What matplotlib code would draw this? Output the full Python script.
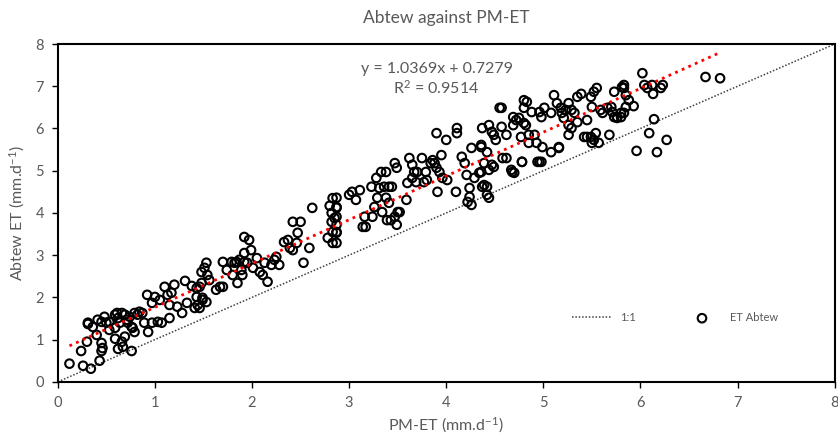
import matplotlib
matplotlib.use('Agg')
import matplotlib.pyplot as plt
import numpy as np

# PM-ET vs ET Abtew (mm/d)
pm_et = np.array([
    0.12, 0.26, 0.34, 0.43, 0.24, 0.30, 0.31, 0.40, 0.45, 0.46, 0.45, 0.62, 0.67, 0.76,
    0.59, 0.66, 0.69, 0.79, 0.77, 0.89, 0.93, 0.97, 1.03, 1.07, 1.15, 1.23, 1.28, 1.10,
    1.20, 1.31, 1.38, 1.43, 1.48, 0.92, 1.00, 0.97, 1.05, 1.13, 1.17, 1.15, 1.33, 1.41,
    1.46, 1.49, 0.31, 0.36, 0.41, 0.45, 0.48, 0.50, 0.53, 0.59, 0.61, 0.62, 0.66, 0.69,
    0.71, 0.74, 0.79, 0.82, 0.84, 0.87, 0.64, 0.72, 0.76, 0.53, 0.59,
    1.46, 1.43, 1.44, 1.49, 1.53, 1.48, 1.53, 1.51, 1.54, 1.56, 1.63, 1.67, 1.70, 1.70,
    1.74, 1.80, 1.84, 1.85, 1.87, 1.90, 1.92, 1.92, 1.97, 1.99, 1.95, 2.01, 2.05, 2.08,
    2.11, 2.13, 2.16, 2.20, 2.23, 2.25, 2.28, 2.33, 2.37, 2.39, 2.42, 2.42, 2.50, 2.47,
    2.46, 2.53, 2.59, 2.62, 2.80, 2.83, 2.87, 2.82, 2.85, 2.82, 2.87, 2.83, 2.87, 2.78,
    2.83, 1.79, 1.82, 1.92, 1.89,
    2.87, 2.87, 2.87, 2.87, 2.87, 3.00, 3.03, 3.11, 3.07, 3.14, 3.17, 3.16, 3.23, 3.24,
    3.26, 3.28, 3.29, 3.31, 3.33, 3.34, 3.36, 3.38, 3.38, 3.39, 3.41, 3.41, 3.44, 3.47,
    3.49, 3.43, 3.47, 3.49, 3.50, 3.52, 3.59, 3.60, 3.62, 3.65, 3.67, 3.70, 3.65, 3.69,
    3.75, 3.79, 3.77, 3.80, 3.84, 3.86, 3.88, 3.90, 3.91, 3.93, 3.95, 3.90, 4.00, 3.96,
    4.01, 4.11, 4.11, 4.10, 4.16, 4.19, 4.21, 4.24, 4.24, 4.22, 4.26, 4.26, 4.29, 4.36,
    4.36, 4.37, 4.37,
    4.44, 4.47, 4.49, 4.36, 4.34, 4.42, 4.39, 4.44, 4.51, 4.49, 4.55, 4.57, 4.57, 4.62,
    4.58, 4.62, 4.39, 4.42, 4.42, 4.44, 4.67, 4.70, 4.69, 4.69, 4.72, 4.75, 4.77, 4.78,
    4.80, 4.83, 4.80, 4.80, 4.82, 4.85, 4.88, 4.85, 4.91, 4.93, 4.94, 4.98, 4.96, 4.98,
    4.99, 5.01, 5.08, 5.08, 5.11, 5.14, 5.16, 5.18, 5.19, 5.21, 5.23, 5.26, 5.26, 5.29,
    5.26, 5.29, 5.32, 5.35, 5.39, 5.35, 5.42, 5.45, 5.45, 5.49, 5.50, 5.52, 5.55, 5.49,
    5.50, 5.52, 5.54, 5.57, 5.59, 5.61, 5.66, 5.68, 5.70, 5.71, 5.73, 5.73, 5.76, 5.80,
    5.81, 5.16, 4.96, 4.78, 4.68, 4.47,
    6.02, 5.83, 5.83, 5.85, 5.88, 5.85, 5.93, 5.80, 5.83, 5.76, 6.04, 6.07, 6.12, 6.13,
    6.21, 6.23, 6.67, 6.82, 6.14, 6.09, 6.27, 5.96, 6.17,
])
et_abtew = np.array([
    0.43, 0.38, 0.31, 0.50, 0.73, 0.95, 1.37, 1.11, 0.92, 0.80, 0.73, 0.78, 0.83, 0.73,
    1.02, 0.95, 1.07, 1.18, 1.28, 1.40, 1.18, 1.40, 1.42, 1.40, 1.51, 1.78, 1.63, 2.25,
    2.30, 2.39, 2.27, 2.22, 2.34, 2.06, 2.01, 1.87, 1.94, 2.06, 2.11, 1.82, 1.87, 1.75,
    1.75, 1.94, 1.40, 1.30, 1.47, 1.42, 1.54, 1.40, 1.42, 1.59, 1.63, 1.51, 1.63, 1.59,
    1.47, 1.54, 1.63, 1.59, 1.66, 1.63, 1.40, 1.40, 1.30, 1.23, 1.28,
    2.25, 2.01, 1.82, 1.99, 1.89, 2.60, 2.82, 2.70, 2.53, 2.41, 2.18, 2.25, 2.25, 2.84,
    2.65, 2.53, 2.84, 2.34, 2.89, 2.53, 3.05, 3.43, 3.36, 3.12, 2.82, 2.70, 2.93, 2.60,
    2.53, 2.82, 2.37, 2.77, 2.89, 2.96, 2.77, 3.31, 3.36, 3.17, 3.12, 3.79, 3.79, 3.53,
    3.29, 2.82, 3.17, 4.12, 4.17, 4.35, 4.14, 4.00, 3.88, 3.79, 3.72, 3.55, 3.55, 3.41,
    3.29, 2.84, 2.82, 2.84, 2.65,
    4.36, 4.12, 3.91, 3.53, 3.29, 4.43, 4.50, 4.54, 4.31, 3.67, 3.67, 3.91, 4.62, 3.91,
    4.14, 4.83, 4.36, 4.59, 4.97, 4.02, 4.62, 4.97, 4.36, 3.83, 4.24, 4.62, 4.62, 5.18,
    5.07, 3.83, 3.91, 3.72, 4.02, 4.02, 4.31, 4.71, 5.30, 5.14, 4.97, 4.97, 4.83, 4.73,
    5.30, 4.97, 4.73, 4.78, 5.18, 5.25, 5.18, 5.07, 4.50, 4.97, 5.37, 5.89, 5.73, 4.83,
    4.78, 6.01, 5.89, 4.50, 5.33, 5.18, 4.90, 4.59, 4.38, 4.26, 4.19, 5.54, 4.83, 5.56,
    4.97, 4.62, 6.01,
    6.08, 5.92, 5.85, 5.61, 4.95, 5.44, 5.18, 5.02, 5.73, 5.09, 6.49, 6.49, 6.04, 5.85,
    5.30, 5.30, 4.66, 4.62, 4.43, 4.36, 5.02, 4.95, 6.27, 6.08, 6.20, 6.25, 5.80, 5.21,
    6.67, 6.63, 6.49, 6.13, 6.08, 5.85, 6.39, 5.66, 5.85, 5.66, 5.21, 5.21, 6.39, 6.27,
    5.56, 6.49, 6.37, 5.44, 6.79, 6.60, 5.56, 6.49, 6.37, 6.25, 6.44, 6.60, 6.08, 6.01,
    5.85, 6.44, 6.37, 6.75, 6.82, 6.15, 5.80, 5.80, 6.20, 6.75, 6.51, 6.87, 6.96, 5.80,
    5.66, 5.73, 5.89, 5.66, 6.44, 6.37, 6.49, 5.85, 6.51, 6.39, 6.27, 6.87, 6.25, 6.27,
    6.98, 5.54, 5.21, 5.21, 4.97, 5.14,
    7.31, 7.03, 6.96, 6.79, 6.67, 6.51, 6.53, 6.37, 6.37, 6.27, 7.03, 6.96, 7.03, 6.82,
    6.96, 7.03, 7.22, 7.19, 6.22, 5.89, 5.73, 5.47, 5.44,
])

slope = 1.0369
intercept = 0.7279
r2 = 0.9514

gray = '#595959'
plt.rcParams['font.family'] = ['Lato', 'DejaVu Sans']
plt.rcParams['mathtext.default'] = 'regular'

fig = plt.figure(figsize=(8.38, 4.45), dpi=100)
ax = fig.add_axes([0.069, 0.142, 0.927, 0.759])

# 1:1 line
ax.plot([0, 8], [0, 8], color='#404040', linestyle=(0, (1, 1.2)), linewidth=1.1, label='1:1')

ax.scatter(pm_et, et_abtew, s=38, facecolors='none', edgecolors='black',
           linewidths=1.5, label='ET Abtew', zorder=3)

# linear trendline
xt = np.array([pm_et.min(), pm_et.max()])
ax.plot(xt, slope * xt + intercept, color='#ff0000', linestyle=(0, (1, 1.6)),
        linewidth=2.0, zorder=4)

ax.text(3.9, 7.41, 'y = %.4fx + %.4f' % (slope, intercept), ha='center', va='center',
        fontsize=11.5, color=gray)
ax.text(3.9, 6.96, 'R$^2$ = %.4f' % r2, ha='center', va='center', fontsize=11.5, color=gray)

ax.set_xlim(0, 8)
ax.set_ylim(0, 8)
ax.set_xticks(range(0, 9))
ax.set_yticks(range(0, 9))
ax.tick_params(direction='out', length=4, width=1, colors='black', labelcolor=gray,
               labelsize=10.5, pad=6)
for sp in ax.spines.values():
    sp.set_linewidth(1.5)
    sp.set_color('black')

ax.set_title('Abtew against PM-ET', fontsize=12.5, color=gray, pad=15)
ax.set_xlabel('PM-ET (mm.d$^{-1}$)', fontsize=11.5, color=gray, labelpad=4)
ax.set_ylabel('Abtew ET (mm.d$^{-1}$)', fontsize=11.5, color=gray, labelpad=6)

ax.legend(loc='center', bbox_to_anchor=(0.795, 0.19), ncol=2, frameon=False,
          fontsize=8, labelcolor=gray, columnspacing=4.2, handlelength=3.5)

fig.savefig('out.png', dpi=100)
